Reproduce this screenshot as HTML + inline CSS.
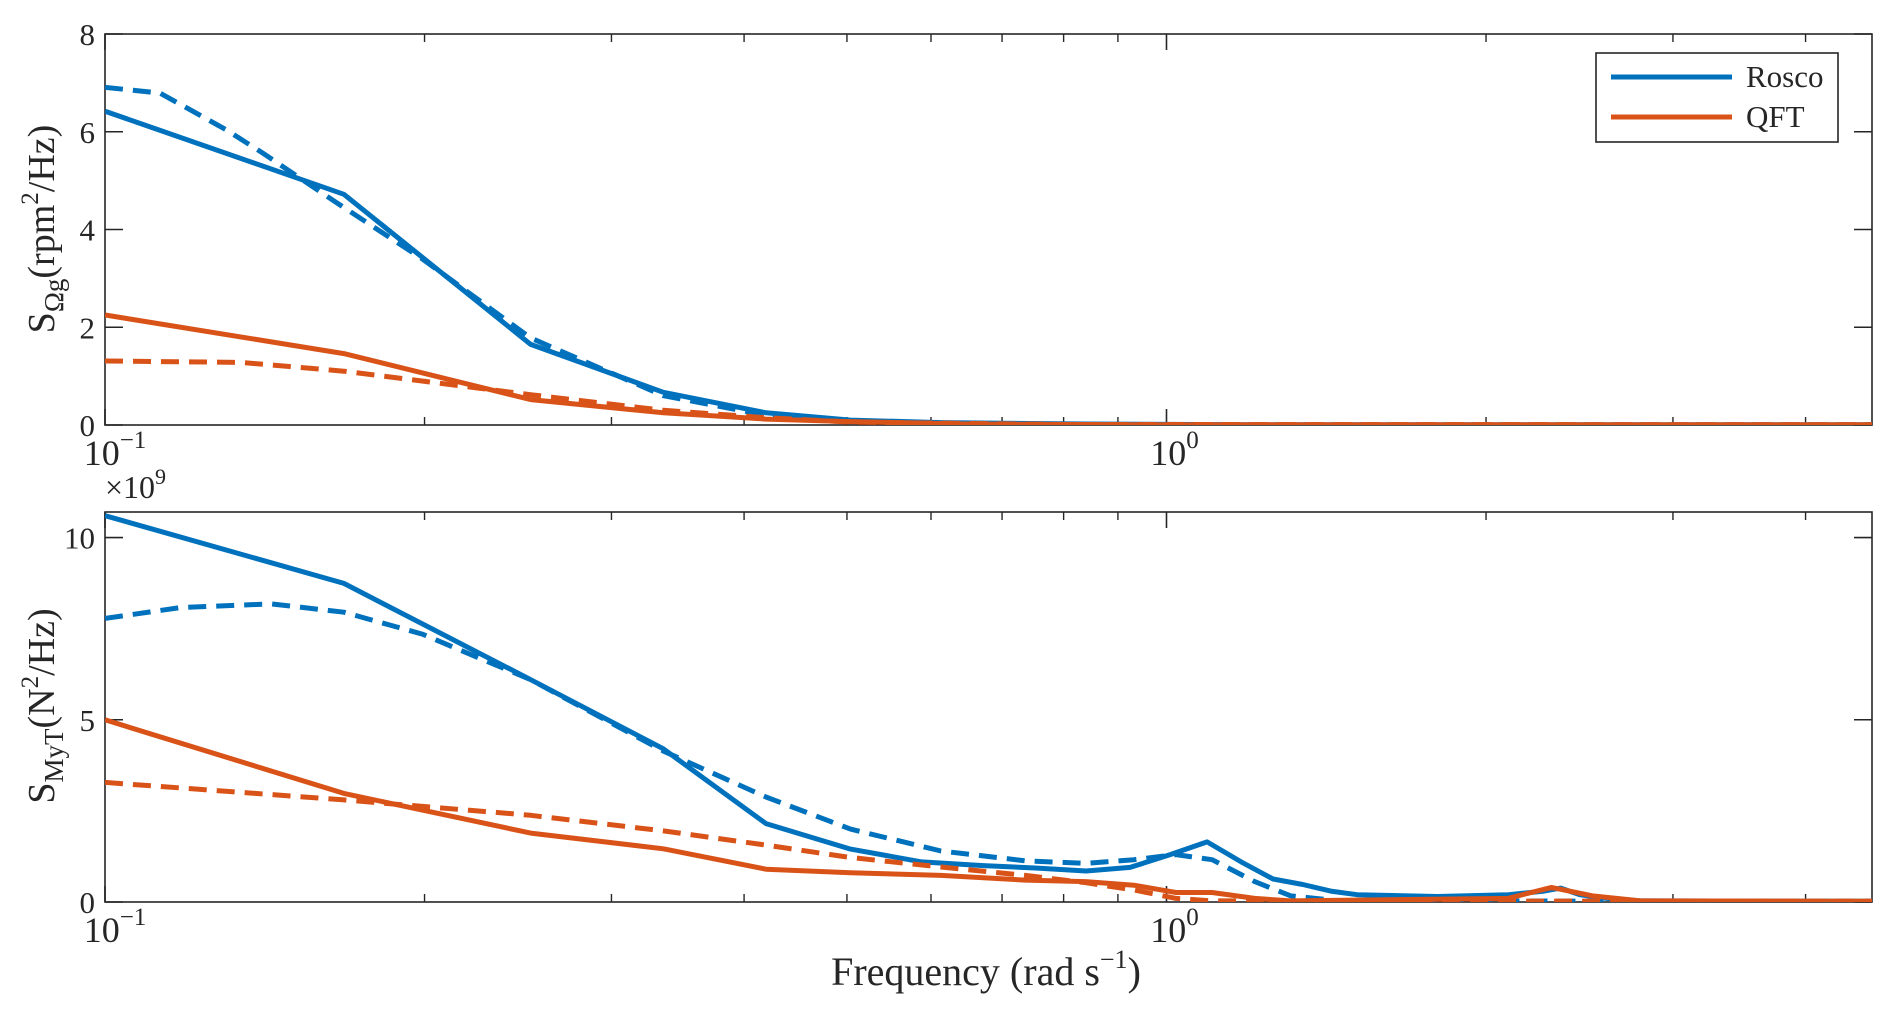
<!DOCTYPE html>
<html><head><meta charset="utf-8"><style>
html,body{margin:0;padding:0;background:#fff;}
body{position:relative;}
svg text{font-family:"Liberation Serif",serif;fill:#262626;}
</style></head><body>
<svg id="chart" width="1892" height="1015" viewBox="0 0 1892 1015" xmlns="http://www.w3.org/2000/svg">
<rect width="1892" height="1015" fill="#fff"/>
<g id="g"></g>
</svg>
<script>
// ---- data ----
const xMin = 0.1, xMax = 4.62;
const topYMax = 8, botYMax = 10.7;
const topYTicks = [0, 2, 4, 6, 8];
const botYTicks = [0, 5, 10];
const xMajorTicks = [0.1, 1];
const xMinorTicks = [0.2,0.3,0.4,0.5,0.6,0.7,0.8,0.9,2,3,4];

// top panel (rpm^2/Hz)
const topRoscoX = [0.1,0.1679,0.2518,0.3358,0.4195,0.5039,0.6131,0.8393,1.2,4.62];
const topRoscoY = [6.42,4.72,1.65,0.67,0.25,0.1,0.05,0.02,0.005,0.005];
const topRoscoDX = [0.1,0.1127,0.1303,0.1409,0.1639,0.1990,0.2518,0.3358,0.4195,0.5039,0.6460,1.0,4.62];
const topRoscoDY = [6.91,6.79,6.03,5.56,4.6,3.4,1.78,0.6,0.2,0.07,0.02,0.005,0.005];
const topQftX = [0.1,0.1679,0.2518,0.3358,0.4195,0.5039,0.6460,1.0,4.62];
const topQftY = [2.25,1.46,0.52,0.25,0.12,0.07,0.02,0.005,0.005];
const topQftDX = [0.1,0.1344,0.1679,0.2518,0.3358,0.4195,0.5039,0.8,4.62];
const topQftDY = [1.31,1.28,1.1,0.62,0.3,0.15,0.06,0.01,0.005];

// bottom panel (x1e9 N^2/Hz)
const botRoscoX = [0.1,0.1679,0.2518,0.3358,0.4195,0.5039,0.588,0.672,0.756,0.84,0.924,1.008,1.092,1.176,1.26,1.344,1.428,1.512,1.8,2.1,2.184,2.268,2.352,2.45,2.6,2.8,4.62];
const botRoscoY = [10.6,8.74,6.1,4.2,2.15,1.45,1.1,1.0,0.93,0.85,0.95,1.3,1.65,1.1,0.63,0.48,0.3,0.2,0.15,0.2,0.25,0.3,0.38,0.2,0.1,0.03,0.02];
const botRoscoDX = [0.1,0.1179,0.1435,0.1679,0.1990,0.2518,0.3358,0.4195,0.5039,0.6131,0.7362,0.8393,0.9319,1.021,1.104,1.211,1.309,1.454,4.62];
const botRoscoDY = [7.78,8.08,8.18,7.95,7.35,6.1,4.14,2.88,2.0,1.4,1.13,1.06,1.16,1.3,1.16,0.56,0.17,0.03,0.02];
const botQftX = [0.1,0.1679,0.2518,0.3358,0.4195,0.5039,0.6131,0.7362,0.8393,0.9319,1.021,1.104,1.211,1.309,2.097,2.305,2.519,2.796,4.62];
const botQftY = [5.0,2.98,1.89,1.46,0.9,0.8,0.73,0.6,0.56,0.46,0.26,0.26,0.1,0.03,0.1,0.4,0.17,0.03,0.02];
const botQftDX = [0.1,0.1679,0.2518,0.3358,0.4195,0.5039,0.6131,0.7362,0.8393,0.9319,1.021,1.104,4.62];
const botQftDY = [3.28,2.8,2.38,1.95,1.56,1.22,0.96,0.73,0.53,0.33,0.1,0.03,0.02];

// ---- layout ----
const L = 105, R = 1872;
const panels = [{top:34,bot:425},{top:512,bot:902}];
const BLUE = "#0072BD", ORANGE = "#D95319";
const NS = "http://www.w3.org/2000/svg";
const g = document.getElementById('g');
function mk(tag, attrs, parent){const e=document.createElementNS(NS,tag);for(const k in attrs)e.setAttribute(k,attrs[k]);(parent||g).appendChild(e);return e;}
function xs(x){return L + (Math.log10(x)-Math.log10(xMin))/(Math.log10(xMax)-Math.log10(xMin))*(R-L);}
function ysFn(p,ymax){return v => p.bot - v/ymax*(p.bot-p.top);}

mk('defs',{}).innerHTML = '<clipPath id="c0"><rect x="'+L+'" y="'+panels[0].top+'" width="'+(R-L)+'" height="'+(panels[0].bot-panels[0].top)+'"/></clipPath><clipPath id="c1"><rect x="'+L+'" y="'+panels[1].top+'" width="'+(R-L)+'" height="'+(panels[1].bot-panels[1].top)+'"/></clipPath>';

function drawAxes(i, ymax, yticks){
  const p = panels[i], ys = ysFn(p, ymax);
  const ax = mk('g',{});
  
  
  mk('rect',{x:L,y:p.top,width:R-L,height:p.bot-p.top,fill:'none',stroke:'#262626','stroke-width':1.6},ax);
  xMajorTicks.forEach(t=>{const x=xs(t);
    mk('line',{x1:x,x2:x,y1:p.bot,y2:p.bot-16,stroke:'#262626','stroke-width':1.6},ax);
    mk('line',{x1:x,x2:x,y1:p.top,y2:p.top+16,stroke:'#262626','stroke-width':1.6},ax);
    const tx = mk('text',{x:x+(t===1?8:10),y:p.bot+40,'font-size':36,'text-anchor':'middle'},ax);
    
    
    tx.innerHTML = '10<tspan font-size="25" dy="-17">'+(t===1?'0':'−1')+'</tspan>';
  });
  xMinorTicks.forEach(t=>{const x=xs(t);
    mk('line',{x1:x,x2:x,y1:p.bot,y2:p.bot-8,stroke:'#262626','stroke-width':1.4},ax);
    mk('line',{x1:x,x2:x,y1:p.top,y2:p.top+8,stroke:'#262626','stroke-width':1.4},ax);
  });
  yticks.forEach(t=>{const y=ys(t);
    mk('line',{x1:L,x2:L+18,y1:y,y2:y,stroke:'#262626','stroke-width':1.6},ax);
    mk('line',{x1:R,x2:R-18,y1:y,y2:y,stroke:'#262626','stroke-width':1.6},ax);
    const tx = mk('text',{x:L-10,y:y+11,'font-size':31,'text-anchor':'end'},ax);
    
    
    tx.textContent = t;
  });
}
function drawLine(i, ymax, X, Y, color, dashed, name){
  const p = panels[i], ys = ysFn(p, ymax);
  const d = X.map((x,k)=>(k?'L':'M')+xs(x).toFixed(1)+','+ys(Y[k]).toFixed(1)).join(' ');
  const e = mk('path',{d:d,fill:'none',stroke:color,'stroke-width':5,'stroke-linejoin':'round','clip-path':'url(#c'+i+')'});
  if(dashed) e.setAttribute('stroke-dasharray','18 10');
  
  
}
drawAxes(0, topYMax, topYTicks);
drawAxes(1, botYMax, botYTicks);
drawLine(0, topYMax, topRoscoX, topRoscoY, BLUE, false, 'top-rosco-solid');
drawLine(0, topYMax, topRoscoDX, topRoscoDY, BLUE, true, 'top-rosco-dashed');
drawLine(0, topYMax, topQftX, topQftY, ORANGE, false, 'top-qft-solid');
drawLine(0, topYMax, topQftDX, topQftDY, ORANGE, true, 'top-qft-dashed');
drawLine(1, botYMax, botRoscoX, botRoscoY, BLUE, false, 'bottom-rosco-solid');
drawLine(1, botYMax, botRoscoDX, botRoscoDY, BLUE, true, 'bottom-rosco-dashed');
drawLine(1, botYMax, botQftX, botQftY, ORANGE, false, 'bottom-qft-solid');
drawLine(1, botYMax, botQftDX, botQftDY, ORANGE, true, 'bottom-qft-dashed');
</script>
<svg style="position:absolute;left:0;top:0" width="1892" height="1015">
<g>
<rect x="1596" y="53" width="242" height="89" fill="#fff" stroke="#262626" stroke-width="1.6"/>
<line x1="1611" x2="1732" y1="77" y2="77" stroke="#0072BD" stroke-width="5"/>
<text x="1746" y="87" font-size="31">Rosco</text>
<line x1="1611" x2="1732" y1="117" y2="117" stroke="#D95319" stroke-width="5"/>
<text x="1746" y="127" font-size="31">QFT</text>
</g>
<text x="105" y="498" font-size="32">×10<tspan font-size="22" dy="-14">9</tspan></text>
<text transform="translate(54,229) rotate(-90)" font-size="38" text-anchor="middle">S<tspan font-size="27" dy="9">Ωg</tspan><tspan dy="-9">(rpm</tspan><tspan font-size="25" dy="-16">2</tspan><tspan dy="16">/Hz)</tspan></text>
<text transform="translate(54,706) rotate(-90)" font-size="38" text-anchor="middle">S<tspan font-size="27" dy="9">MyT</tspan><tspan dy="-9">(N</tspan><tspan font-size="25" dy="-16">2</tspan><tspan dy="16">/Hz)</tspan></text>
<text x="986" y="985" font-size="40" text-anchor="middle">Frequency (rad s<tspan font-size="26" dy="-17">−1</tspan><tspan dy="17">)</tspan></text>
</svg>
</body></html>
